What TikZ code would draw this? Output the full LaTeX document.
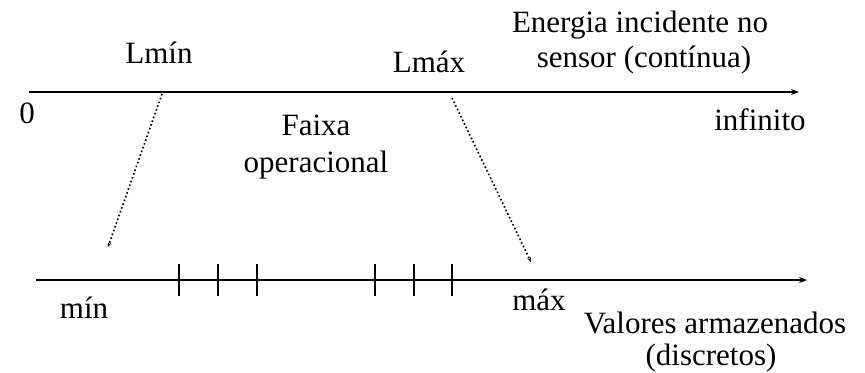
\documentclass[tikz,border=0pt]{standalone}
\usepackage{fontspec}
\setmainfont{Liberation Serif}
\usetikzlibrary{arrows.meta}
\begin{document}
\begin{tikzpicture}[x=0.5pt,y=-0.5pt,
  lbl/.style={inner sep=0pt, anchor=base, font=\fontsize{15.5}{18}\selectfont},
  axis/.style={line width=1pt,-{Stealth[length=4pt,width=3pt]}},
  tickmark/.style={line width=1pt},
  guide/.style={line width=0.8pt, dash pattern=on 0.8pt off 1.2pt, -{Stealth[length=2.5pt,width=2pt]}}]
\useasboundingbox (0,0) rectangle (865,372);
% axes
\coordinate (t0) at (29,92);
\coordinate (t1) at (799,92);
\coordinate (b0) at (36,280);
\coordinate (b1) at (807,280);
\draw[axis] (t0) -- (t1);
\draw[axis] (b0) -- (b1);
% ticks
\foreach \x [count=\i] in {179,218,257,375,414,452} {
  \coordinate (k\i) at (\x,280);
  \draw[tickmark] ([yshift=8pt]k\i) -- ([yshift=-8pt]k\i);
}
% guides
\coordinate (p1s) at (162,94);
\coordinate (p1e) at (108,247);
\coordinate (p2s) at (452,98);
\coordinate (p2e) at (531,262);
\draw[guide] (p1s) -- (p1e);
\draw[guide] (p2s) -- (p2e);
% labels
\node[lbl] (lmin) at (159,63) {Lmín};
\node[lbl] (lmax) at (429,72) {Lmáx};
\node[lbl] (en1) at (640,32) {Energia incidente no};
\node[lbl] (en2) at (644,67) {sensor (contínua)};
\node[lbl] (zero) at (27,123) {0};
\node[lbl] (inf) at (760,130) {infinito};
\node[lbl] (fx1) at (316,135) {Faixa};
\node[lbl] (fx2) at (316,172) {operacional};
\node[lbl] (mn) at (84,318) {mín};
\node[lbl] (mx) at (539,310) {máx};
\node[lbl] (va1) at (715,333) {Valores armazenados};
\node[lbl] (va2) at (711,365) {(discretos)};
\end{tikzpicture}
\end{document}
